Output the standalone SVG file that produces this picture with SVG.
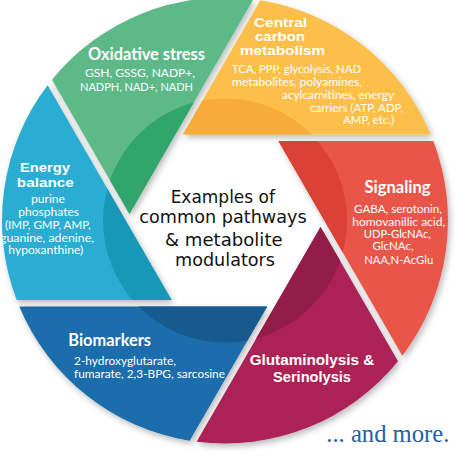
<svg xmlns="http://www.w3.org/2000/svg" width="474" height="469" viewBox="0 0 474 469">
<defs>
<style>
.t{font-family:Lato,"Open Sans","Liberation Sans",sans-serif;fill:#fff;text-anchor:middle}
.h{font-weight:700;font-size:16.5px}
.h2{font-weight:700;font-size:12.5px;font-family:"Liberation Sans",Lato,sans-serif}
.h3{font-weight:700;font-size:15px;font-family:"Liberation Sans",Lato,sans-serif}
.b{font-size:11.5px}
.s{text-anchor:start}
.c{font-family:"DejaVu Sans","Liberation Sans",sans-serif;font-size:17px;fill:#111;text-anchor:middle}
.m{font-family:"Liberation Serif",serif;font-size:25px;fill:#2360a8}
</style>
<clipPath id="inner"><circle cx="225" cy="220.5" r="122"/></clipPath>
<filter id="sh" x="-20%" y="-20%" width="140%" height="140%"><feDropShadow dx="2" dy="3" stdDeviation="3" flood-color="#000" flood-opacity="0.28"/></filter>
<path id="p0" d="M182.85 134.5 L430.75 134.5 A223 223 0 0 0 260.33 0.32 Z"/>
<path id="p1" d="M278.4 141 L402.36 355.68 A223 223 0 0 0 433.35 141 Z"/>
<path id="p2" d="M320.56 227 L196.6 441.68 A223 223 0 0 0 398.03 361.18 Z"/>
<path id="p3" d="M267.15 306.5 L19.25 306.5 A223 223 0 0 0 189.67 440.68 Z"/>
<path id="p4" d="M171.6 300 L47.64 85.32 A223 223 0 0 0 16.65 300 Z"/>
<path id="p5" d="M129.44 214 L253.4 -0.68 A223 223 0 0 0 51.97 79.82 Z"/>
</defs>
<rect width="474" height="469" fill="#fff"/>

<g id="oxidative-stress">
<use href="#p5" fill="#5dba88" filter="url(#sh)"/>
<use href="#p5" fill="#32a56c" clip-path="url(#inner)"/>
<text class="t h" x="146.5" y="60" textLength="117" lengthAdjust="spacingAndGlyphs">Oxidative stress</text>
<text class="t b" x="140" y="77" textLength="110" lengthAdjust="spacingAndGlyphs">GSH, GSSG, NADP+,</text>
<text class="t b" x="136.5" y="90.5" textLength="113" lengthAdjust="spacingAndGlyphs">NADPH, NAD+, NADH</text>
</g>

<g id="central-carbon-metabolism">
<use href="#p0" fill="#fcbf48" filter="url(#sh)"/>
<use href="#p0" fill="#f7ab38" clip-path="url(#inner)"/>
<text class="t h2" x="280.5" y="26.5" textLength="53" lengthAdjust="spacingAndGlyphs">Central</text>
<text class="t h2" x="280" y="40.5" textLength="50" lengthAdjust="spacingAndGlyphs">carbon</text>
<text class="t h2" x="282.5" y="55" textLength="85" lengthAdjust="spacingAndGlyphs">metabolism</text>
<text class="t b s" x="232" y="73" textLength="129" lengthAdjust="spacingAndGlyphs">TCA, PPP, glycolysis, NAD</text>
<text class="t b s" x="232" y="86" textLength="130" lengthAdjust="spacingAndGlyphs">metabolites, polyamines,</text>
<text class="t b s" x="282" y="99" textLength="112" lengthAdjust="spacingAndGlyphs">acylcarnitines, energy</text>
<text class="t b s" x="310" y="111.5" textLength="93" lengthAdjust="spacingAndGlyphs">carriers (ATP, ADP,</text>
<text class="t b s" x="343" y="124" textLength="51" lengthAdjust="spacingAndGlyphs">AMP, etc.)</text>
</g>

<g id="signaling">
<use href="#p1" fill="#e9574a" filter="url(#sh)"/>
<use href="#p1" fill="#dc4138" clip-path="url(#inner)"/>
<text class="t h" x="397.5" y="193" textLength="66" lengthAdjust="spacingAndGlyphs">Signaling</text>
<text class="t b" x="398" y="213" textLength="88" lengthAdjust="spacingAndGlyphs">GABA, serotonin,</text>
<text class="t b" x="398.7" y="225.5" textLength="93" lengthAdjust="spacingAndGlyphs">homovanillic acid,</text>
<text class="t b" x="397.3" y="237.5" textLength="67" lengthAdjust="spacingAndGlyphs">UDP-GlcNAc,</text>
<text class="t b" x="393" y="250" textLength="41" lengthAdjust="spacingAndGlyphs">GlcNAc,</text>
<text class="t b" x="398.7" y="263.5" textLength="69" lengthAdjust="spacingAndGlyphs">NAA,N-AcGlu</text>
</g>

<g id="glutaminolysis-serinolysis">
<use href="#p2" fill="#ad2457" filter="url(#sh)"/>
<use href="#p2" fill="#931d49" clip-path="url(#inner)"/>
<text class="t h3" x="312" y="365" textLength="124.7" lengthAdjust="spacingAndGlyphs">Glutaminolysis &amp;</text>
<text class="t h3" x="312" y="382" textLength="78" lengthAdjust="spacingAndGlyphs">Serinolysis</text>
</g>

<g id="biomarkers">
<use href="#p3" fill="#1a6dab" filter="url(#sh)"/>
<use href="#p3" fill="#175a8f" clip-path="url(#inner)"/>
<text class="t h s" x="68.3" y="346" textLength="82.7" lengthAdjust="spacingAndGlyphs">Biomarkers</text>
<text class="t b s" x="74" y="365" textLength="102" lengthAdjust="spacingAndGlyphs">2-hydroxyglutarate,</text>
<text class="t b s" x="74" y="377.7" textLength="151" lengthAdjust="spacingAndGlyphs">fumarate, 2,3-BPG, sarcosine</text>
</g>

<g id="energy-balance">
<use href="#p4" fill="#2badd2" filter="url(#sh)"/>
<use href="#p4" fill="#1898b8" clip-path="url(#inner)"/>
<text class="t h2" x="45" y="172" textLength="50" lengthAdjust="spacingAndGlyphs">Energy</text>
<text class="t h2" x="45.3" y="186.5" textLength="57" lengthAdjust="spacingAndGlyphs">balance</text>
<text class="t b" x="48" y="203.3" textLength="34" lengthAdjust="spacingAndGlyphs">purine</text>
<text class="t b" x="48.7" y="216" textLength="60.7" lengthAdjust="spacingAndGlyphs">phosphates</text>
<text class="t b" x="47.8" y="228.5" textLength="85.7" lengthAdjust="spacingAndGlyphs">(IMP, GMP, AMP,</text>
<text class="t b" x="47" y="242" textLength="94" lengthAdjust="spacingAndGlyphs">guanine, adenine,</text>
<text class="t b" x="45.8" y="254.3" textLength="75" lengthAdjust="spacingAndGlyphs">hypoxanthine)</text>
</g>

<g id="center">
<text class="c" x="222.8" y="203.3" textLength="104.3" lengthAdjust="spacingAndGlyphs">Examples of</text>
<text class="c" x="223" y="223.3" textLength="167.3" lengthAdjust="spacingAndGlyphs">common pathways</text>
<text class="c" x="223.8" y="245.7" textLength="117.7" lengthAdjust="spacingAndGlyphs">&amp; metabolite</text>
<text class="c" x="225" y="265.7" textLength="100" lengthAdjust="spacingAndGlyphs">modulators</text>
</g>

<g id="and-more">
<text class="m" x="326.3" y="441.7" textLength="123" lengthAdjust="spacingAndGlyphs">... and more.</text>
</g>
</svg>
